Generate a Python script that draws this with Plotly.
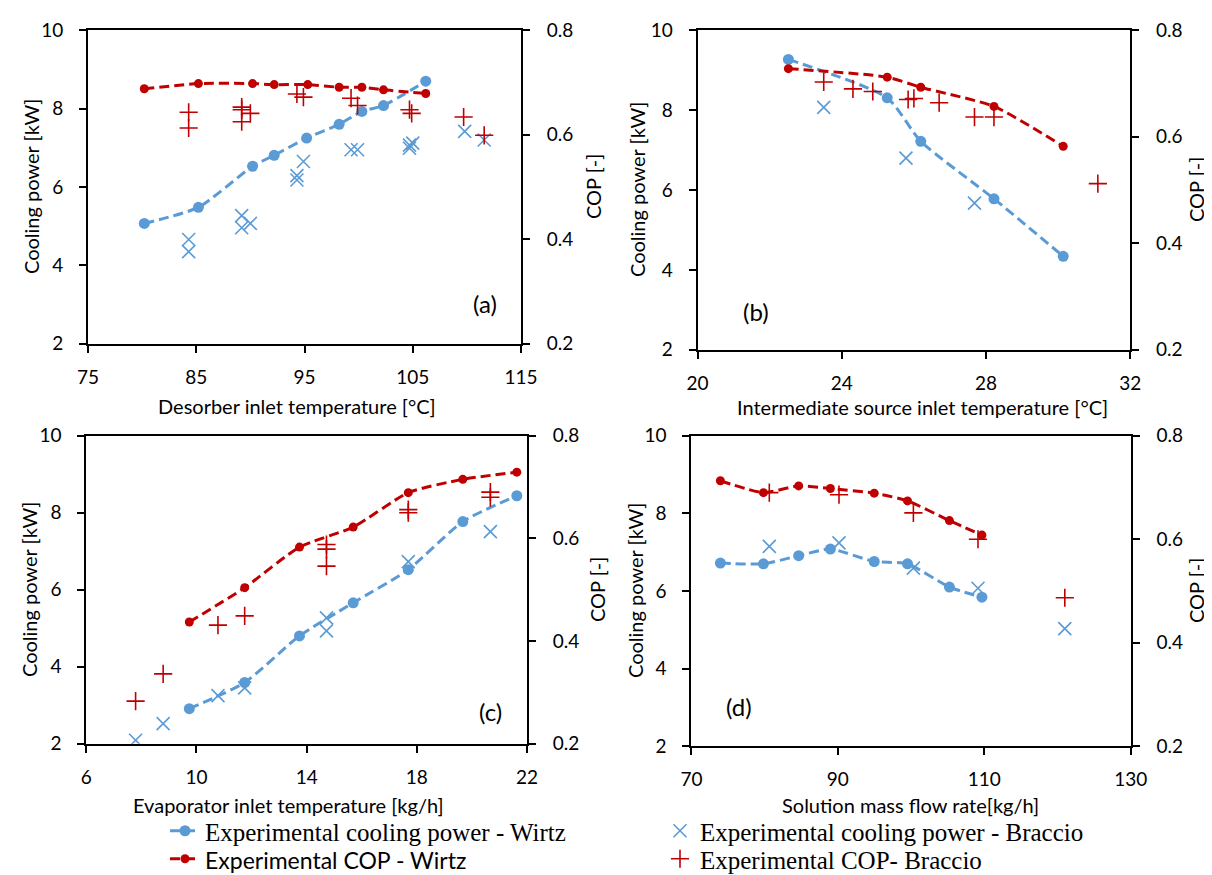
import plotly.graph_objects as go

W, H = 1212, 875
BLUE = "#5B9BD5"
RED = "#C00000"
TICKFONT = dict(family="Lato", size=19, color="black")
TITLEFONT = dict(family="Lato", size=20, color="black")

# ---------------- Panel (a): desorber inlet temperature ----------------
a_wirtz_x = [80.2, 85.2, 90.2, 92.2, 95.2, 98.2, 100.3, 102.3, 106.2]
a_wirtz_cool = [5.07, 5.48, 6.53, 6.81, 7.25, 7.60, 7.93, 8.08, 8.70]
a_wirtz_cop_x = [80.2, 85.2, 90.2, 92.2, 95.3, 98.2, 100.3, 102.3, 106.2]
a_wirtz_cop = [0.688, 0.698, 0.698, 0.696, 0.696, 0.691, 0.691, 0.686, 0.679]
a_brac_cool_x = [84.3, 84.3, 89.2, 89.2, 90.0, 94.3, 94.3, 94.9, 99.3, 99.9, 104.7, 104.7, 105.0, 109.8, 111.6]
a_brac_cool = [4.66, 4.35, 5.27, 4.96, 5.07, 6.29, 6.18, 6.65, 6.95, 6.95, 7.07, 6.99, 7.12, 7.42, 7.20]
a_brac_cop_x = [84.3, 84.3, 89.2, 89.2, 89.2, 90.0, 94.3, 94.9, 99.3, 99.9, 104.7, 104.9, 109.7, 111.6]
a_brac_cop = [0.643, 0.613, 0.653, 0.648, 0.625, 0.641, 0.678, 0.672, 0.670, 0.656, 0.648, 0.641, 0.634, 0.599]

# ---------------- Panel (b): intermediate source inlet temperature ----------------
b_wirtz_x = [22.52, 25.26, 26.19, 28.22, 30.14]
b_wirtz_cool = [9.27, 8.31, 7.22, 5.78, 4.34]
b_wirtz_cop = [0.728, 0.712, 0.693, 0.657, 0.582]
b_brac_cool_x = [23.50, 25.78, 27.68]
b_brac_cool = [8.07, 6.80, 5.67]
b_brac_cop_x = [23.50, 24.31, 24.86, 25.84, 26.00, 26.70, 27.68, 28.22, 31.10]
b_brac_cop = [0.703, 0.690, 0.685, 0.670, 0.672, 0.664, 0.637, 0.637, 0.512]

# ---------------- Panel (c): evaporator inlet temperature ----------------
c_wirtz_x = [9.74, 11.75, 13.74, 15.69, 17.69, 19.67, 21.63]
c_wirtz_cool = [2.91, 3.59, 4.80, 5.66, 6.52, 7.77, 8.44]
c_wirtz_cop = [0.437, 0.504, 0.583, 0.622, 0.689, 0.715, 0.729]
c_brac_cool_x = [7.79, 8.79, 10.78, 11.75, 14.72, 14.72, 17.69, 20.67]
c_brac_cool = [2.09, 2.52, 3.25, 3.45, 5.27, 4.93, 6.73, 7.51]
c_brac_cop_x = [7.79, 8.79, 10.78, 11.75, 14.72, 14.72, 14.72, 17.69, 17.69, 20.67, 20.67]
c_brac_cop = [0.283, 0.336, 0.431, 0.449, 0.588, 0.579, 0.546, 0.656, 0.650, 0.690, 0.680]

# ---------------- Panel (d): solution mass flow rate ----------------
d_wirtz_x = [73.96, 79.84, 84.65, 88.98, 94.97, 99.52, 105.24, 109.68]
d_wirtz_cool = [6.72, 6.70, 6.91, 7.08, 6.76, 6.70, 6.10, 5.84]
d_wirtz_cop = [0.713, 0.690, 0.703, 0.698, 0.689, 0.674, 0.636, 0.608]
d_brac_x = [80.64, 90.16, 100.32, 109.14, 121.0]
d_brac_cool = [7.15, 7.24, 6.59, 6.07, 5.03]
d_brac_cop = [0.690, 0.686, 0.651, 0.600, 0.487]

# axis ranges / ticks per panel
x_ranges = [[75, 115], [20, 32], [6, 22], [70, 130]]
x_dticks = [10, 4, 4, 20]
y_range, y_dtick = [2, 10], 2
cop_range, cop_dtick = [0.2, 0.8], 0.2

x_titles = ["Desorber inlet temperature [°C]",
            "Intermediate source inlet temperature [°C]",
            "Evaporator inlet temperature [kg/h]",
            "Solution mass flow rate[kg/h]"]
panel_labels = ["(a)", "(b)", "(c)", "(d)"]

names = ["Experimental cooling power - Wirtz",
         "Experimental cooling power - Braccio",
         '<span style="font-family:Lato;font-size:23px">Experimental COP - Wirtz</span>',
         "Experimental COP- Braccio"]

panels = [
    (a_wirtz_x, a_wirtz_cool, a_wirtz_cop_x, a_wirtz_cop, a_brac_cool_x, a_brac_cool, a_brac_cop_x, a_brac_cop),
    (b_wirtz_x, b_wirtz_cool, b_wirtz_x, b_wirtz_cop, b_brac_cool_x, b_brac_cool, b_brac_cop_x, b_brac_cop),
    (c_wirtz_x, c_wirtz_cool, c_wirtz_x, c_wirtz_cop, c_brac_cool_x, c_brac_cool, c_brac_cop_x, c_brac_cop),
    (d_wirtz_x, d_wirtz_cool, d_wirtz_x, d_wirtz_cop, d_brac_x, d_brac_cool, d_brac_x, d_brac_cop),
]

# layout geometry in pixels: (left, right, top, bottom)
boxes = [(80.0, 513.0, 22.3, 335.7),
         (689.5, 1122.3, 22.3, 341.7),
         (78.3, 519.0, 427.7, 735.7),
         (683.4, 1122.7, 427.7, 738.3)]
# label positions (pixels)
xtitle_pos = [(289, 398), (914, 399), (280, 797), (902, 797)]
ytitle_l = [(23, 179), (629, 182), (21, 582), (627, 583)]
ytitle_r = [(585, 179), (1188, 182), (589, 582), (1188, 583)]
plab_pos = [(477, 295), (748, 303), (482, 703), (731, 698)]

DASH = "10px,5px"

fig = go.Figure()
layout = dict()
annotations = []

for i, (wx, wc, wcx, wcop, bcx, bc, bpx, bp) in enumerate(panels):
    xa = "x" if i == 0 else f"x{i+1}"
    ya_n = 2 * i + 1
    yb_n = 2 * i + 2
    ya = "y" if ya_n == 1 else f"y{ya_n}"
    yb = f"y{yb_n}"
    show = i == 0
    fig.add_trace(go.Scatter(x=wx, y=wc, xaxis=xa, yaxis=ya, mode="lines+markers",
                             name=names[0], legend="legend", showlegend=show,
                             line=dict(color=BLUE, width=3, dash=DASH, shape="spline", smoothing=0.6),
                             marker=dict(color=BLUE, size=11, symbol="circle")))
    fig.add_trace(go.Scatter(x=bcx, y=bc, xaxis=xa, yaxis=ya, mode="markers",
                             name=names[1], legend="legend", showlegend=show,
                             marker=dict(color=BLUE, size=13, symbol="x-thin",
                                         line=dict(color=BLUE, width=1.6))))
    fig.add_trace(go.Scatter(x=wcx, y=wcop, xaxis=xa, yaxis=yb, mode="lines+markers",
                             name=names[2], legend="legend2", showlegend=show,
                             line=dict(color=RED, width=3, dash=DASH, shape="spline", smoothing=0.6),
                             marker=dict(color=RED, size=9, symbol="circle")))
    fig.add_trace(go.Scatter(x=bpx, y=bp, xaxis=xa, yaxis=yb, mode="markers",
                             name=names[3], legend="legend2", showlegend=show,
                             marker=dict(color=RED, size=13, symbol="cross-thin",
                                         line=dict(color=RED, width=1.6))))

    l, r, t, b = boxes[i]
    xdom = [l / W, r / W]
    ydom = [1 - b / H, 1 - t / H]
    xkey = "xaxis" if i == 0 else f"xaxis{i+1}"
    yakey = "yaxis" if ya_n == 1 else f"yaxis{ya_n}"
    ybkey = f"yaxis{yb_n}"
    common = dict(showline=True, linecolor="black", linewidth=2,
                  ticks="outside", ticklen=7, tickwidth=2, tickcolor="black",
                  showgrid=False, zeroline=False, tickfont=TICKFONT, automargin=False)
    layout[xkey] = dict(domain=xdom, anchor=ya, range=x_ranges[i], dtick=x_dticks[i], tick0=x_ranges[i][0],
                        mirror=True, ticklabelstandoff=8, **common)
    layout[yakey] = dict(domain=ydom, anchor=xa, range=y_range, dtick=y_dtick, tick0=2,
                         ticklabelstandoff=12, **common)
    layout[ybkey] = dict(overlaying=ya, side="right", anchor=xa, range=cop_range, dtick=cop_dtick, tick0=0.2,
                         tickformat=".1f", ticklabelstandoff=13, **common)

    annotations.append(dict(text=x_titles[i], x=xtitle_pos[i][0] / W, y=1 - xtitle_pos[i][1] / H,
                            xref="paper", yref="paper", showarrow=False, font=TITLEFONT,
                            xanchor="center", yanchor="middle"))
    annotations.append(dict(text="Cooling power [kW]", x=ytitle_l[i][0] / W, y=1 - ytitle_l[i][1] / H,
                            xref="paper", yref="paper", showarrow=False, font=TITLEFONT, textangle=-90,
                            xanchor="center", yanchor="middle"))
    annotations.append(dict(text="COP [-]", x=ytitle_r[i][0] / W, y=1 - ytitle_r[i][1] / H,
                            xref="paper", yref="paper", showarrow=False, font=TITLEFONT, textangle=-90,
                            xanchor="center", yanchor="middle"))
    annotations.append(dict(text=panel_labels[i], x=plab_pos[i][0] / W, y=1 - plab_pos[i][1] / H,
                            xref="paper", yref="paper", showarrow=False,
                            font=dict(family="Lato", size=24, color="black"),
                            xanchor="center", yanchor="middle"))

LEGFONT = dict(family="Liberation Serif", size=25, color="black")
fig.update_layout(
    width=W, height=H,
    margin=dict(l=0, r=0, t=0, b=0, autoexpand=False),
    paper_bgcolor="white", plot_bgcolor="white",
    annotations=annotations,
    legend=dict(orientation="h", x=157 / W, y=1 - 823 / H, xanchor="left", yanchor="middle",
                entrywidth=450, font=LEGFONT, bgcolor="rgba(0,0,0,0)", borderwidth=0,
                itemwidth=30),
    legend2=dict(orientation="h", x=157 / W, y=1 - 851 / H, xanchor="left", yanchor="middle",
                 entrywidth=450, font=LEGFONT, bgcolor="rgba(0,0,0,0)", borderwidth=0,
                 itemwidth=30),
    **layout,
)

fig.write_html("out.html")
